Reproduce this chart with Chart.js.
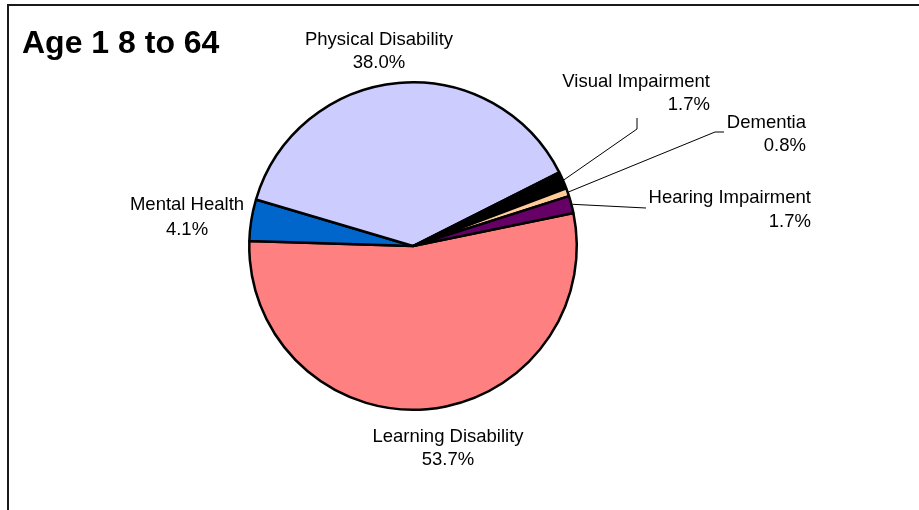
<!DOCTYPE html>
<html>
<head>
<meta charset="utf-8">
<script src="https://cdn.jsdelivr.net/npm/chart.js@4/dist/chart.umd.min.js"></script>
<style>
  html, body { margin: 0; padding: 0; background: #ffffff; }
  #wrap { width: 919px; height: 510px; position: relative; }
</style>
</head>
<body>
<div id="wrap"><canvas id="c" width="919" height="510"></canvas></div>
<script>
// ---- data ----
const chartTitle = "Age 1 8 to 64";
const categories = ["Learning Disability", "Mental Health", "Physical Disability", "Visual Impairment", "Dementia", "Hearing Impairment"];
const percentages = [53.7, 4.1, 38.0, 1.7, 0.8, 1.7];
const sliceColors = ["#FF8080", "#0066CC", "#CCCCFF", "#000000", "#FFCC99", "#660066"];

// ---- label layout (offsets from pie centre, px) ----
const labelLayout = [
  { dx: 35,   y1: 189, y2: 212, align: "center" },
  { dx: -226, y1: -43, y2: -18, align: "center" },
  { dx: -34,  y1: -208, y2: -185, align: "center" },
  { dx: 297,  y1: -166, y2: -143, align: "right", leader: [[224, -117], [224, -128]] },
  { dx: 393,  y1: -125, y2: -102, align: "right", leader: [[302, -114], [311, -114]] },
  { dx: 398,  y1: -50, y2: -26, align: "right", leader: [[233, -38]] }
];

const LABEL_FONT = "18.5px 'Liberation Sans', Arial, sans-serif";
const TITLE_FONT = "bold 32px 'Liberation Sans', Arial, sans-serif";

const framePlugin = {
  id: "frame",
  beforeDraw(chart) {
    const ctx = chart.ctx;
    ctx.save();
    ctx.fillStyle = "#ffffff";
    ctx.fillRect(0, 0, chart.width, chart.height);
    ctx.strokeStyle = "#1a1a1a";
    ctx.lineWidth = 2;
    ctx.beginPath();
    ctx.moveTo(chart.width + 2, 5);
    ctx.lineTo(8, 5);
    ctx.lineTo(8, chart.height + 2);
    ctx.stroke();
    ctx.fillStyle = "#000000";
    ctx.font = TITLE_FONT;
    ctx.textAlign = "left";
    ctx.textBaseline = "alphabetic";
    ctx.fillText(chartTitle, 22, 53);
    ctx.restore();
  }
};

const labelPlugin = {
  id: "sliceLabels",
  afterDatasetsDraw(chart) {
    const ctx = chart.ctx;
    const meta = chart.getDatasetMeta(0);
    ctx.save();
    meta.data.forEach((arc, i) => {
      const p = arc.getProps(["x", "y", "startAngle", "endAngle", "outerRadius"], true);
      const cx = p.x, cy = p.y;
      const L = labelLayout[i];
      if (L.leader) {
        const mid = (p.startAngle + p.endAngle) / 2;
        ctx.strokeStyle = "#000000";
        ctx.lineWidth = 1;
        ctx.beginPath();
        ctx.moveTo(cx + Math.cos(mid) * (p.outerRadius + 1), cy + Math.sin(mid) * (p.outerRadius + 1));
        L.leader.forEach(pt => ctx.lineTo(cx + pt[0], cy + pt[1]));
        ctx.stroke();
      }
      ctx.fillStyle = "#000000";
      ctx.font = LABEL_FONT;
      ctx.textAlign = L.align;
      ctx.textBaseline = "alphabetic";
      const off = 6.6;
      ctx.fillText(categories[i], cx + L.dx, cy + L.y1 + off);
      ctx.fillText(percentages[i].toFixed(1) + "%", cx + L.dx, cy + L.y2 + off);
    });
    ctx.restore();
  }
};

new Chart(document.getElementById("c"), {
  type: "pie",
  data: {
    labels: categories,
    datasets: [{
      data: percentages,
      backgroundColor: sliceColors,
      borderColor: "#000000",
      borderWidth: 2.5
    }]
  },
  options: {
    responsive: false,
    animation: false,
    rotation: 78.4,
    layout: { padding: { top: 81, bottom: 99, left: 248, right: 341 } },
    plugins: {
      legend: { display: false },
      tooltip: { enabled: false },
      title: { display: false }
    }
  },
  plugins: [framePlugin, labelPlugin]
});
</script>
</body>
</html>
